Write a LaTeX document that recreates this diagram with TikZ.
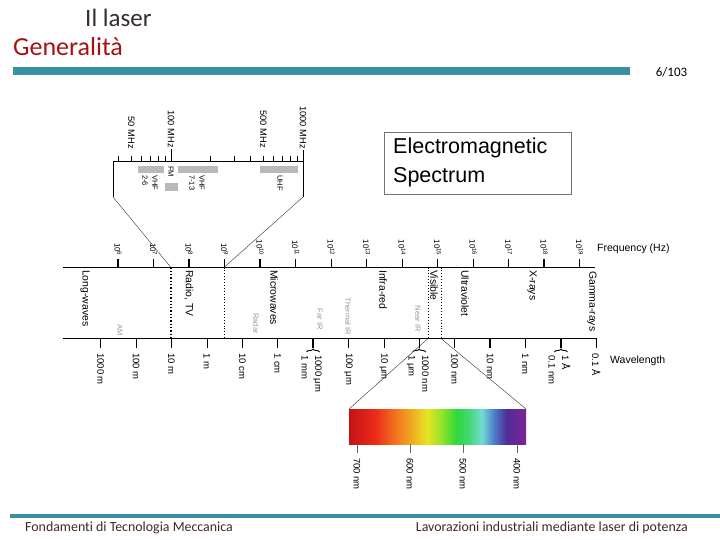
\documentclass[tikz,border=0pt]{standalone}
\usepackage{fontspec}
\setmainfont{Liberation Sans}
\newfontfamily\calib[Ligatures={NoCommon,NoDiscretionary}]{Carlito}
\usetikzlibrary{decorations.pathreplacing}
\definecolor{teal1}{RGB}{58,143,162}
\definecolor{titlered}{RGB}{165,18,18}
\definecolor{darktxt}{RGB}{55,45,42}
\definecolor{footertxt}{RGB}{65,40,32}
\definecolor{lgray}{RGB}{150,150,150}
\definecolor{bargray}{RGB}{185,185,185}
\definecolor{sc0}{RGB}{195,18,22}
\definecolor{sc1}{RGB}{235,45,25}
\definecolor{sc2}{RGB}{242,120,30}
\definecolor{sc3}{RGB}{240,175,35}
\definecolor{sc4}{RGB}{232,228,35}
\definecolor{sc5}{RGB}{150,228,40}
\definecolor{sc6}{RGB}{45,215,60}
\definecolor{sc7}{RGB}{70,215,120}
\definecolor{sc8}{RGB}{115,220,210}
\definecolor{sc9}{RGB}{75,125,205}
\definecolor{sc10}{RGB}{80,45,150}
\definecolor{sc11}{RGB}{125,35,150}
\pgfdeclarehorizontalshading{visible}{100bp}{color(0bp)=(sc0); color(25bp)=(sc0); color(32.5bp)=(sc1); color(38.5bp)=(sc2); color(43bp)=(sc3); color(47bp)=(sc4); color(51bp)=(sc5); color(55.5bp)=(sc6); color(59bp)=(sc7); color(62.5bp)=(sc8); color(66bp)=(sc9); color(69.5bp)=(sc10); color(75bp)=(sc11); color(100bp)=(sc11)}
\begin{document}
\begin{tikzpicture}[x=1pt,y=-1pt,
  vlab/.style={rotate=-90,anchor=west,inner sep=0pt,align=left,font=\fontsize{9.5}{13.5}\selectfont},
  band/.style={rotate=-90,anchor=west,inner sep=0pt,font=\fontsize{10.4}{11}\selectfont},
  faint/.style={rotate=-90,anchor=east,inner sep=0pt,text=lgray,font=\fontsize{7.5}{8}\selectfont},
  flab/.style={rotate=-90,anchor=east,inner sep=0pt,font=\fontsize{8}{9}\selectfont},
  mlab/.style={rotate=-90,anchor=east,inner sep=0pt,font=\fontsize{9.3}{10}\selectfont},
  blab/.style={rotate=-90,anchor=west,inner sep=0pt,align=left,font=\fontsize{7.5}{10}\selectfont},
  axisline/.style={line width=1.2pt},
  bigtick/.style={line width=1.5pt},
  smalltick/.style={line width=0.6pt},
  divider/.style={dotted,line width=0.9pt},
  zoomline/.style={line width=0.45pt,draw=black!75},
  graybar/.style={fill=bargray,draw=none},
]
\useasboundingbox (0,0) rectangle (720,540);
% header
\node[anchor=base west,inner sep=0pt,text=darktxt,font=\calib\fontsize{25}{26}\selectfont] (ttl) at (85,27) {Il laser};
\node[anchor=base west,inner sep=0pt,text=titlered,font=\calib\fontsize{26}{27}\selectfont] (sub) at (13,56) {Generalità};
\fill[teal1] (13,67) rectangle (630,75);
\node[inner sep=0pt,font=\calib\fontsize{13}{14}\selectfont] (pg) at (671.5,72) {6/103};
% footer
\fill[teal1] (10,514) rectangle (720,518);
\node[anchor=west,inner sep=0pt,text=footertxt,font=\calib\fontsize{13.9}{15}\selectfont] (f1) at (25,528) {Fondamenti di Tecnologia Meccanica};
\node[anchor=east,inner sep=0pt,text=footertxt,font=\calib\fontsize{13.9}{15}\selectfont] (f2) at (688,528) {Lavorazioni industriali mediante laser di potenza};
% title box
\node[draw=black!55,line width=0.8pt,anchor=north west,minimum width=187pt,minimum height=62pt,inner sep=0pt] (tbox) at (384,132) {};
\node[anchor=west,inner sep=0pt,font=\fontsize{21.5}{24}\selectfont] (t1) at (393,148) {Electromagnetic};
\node[anchor=west,inner sep=0pt,font=\fontsize{21.5}{24}\selectfont] (t2) at (393,177) {Spectrum};
% main axes
\coordinate (ua) at (63,267.5); \coordinate (ub) at (595,267.5);
\coordinate (la) at (63,338.5); \coordinate (lb) at (597,338.5);
\draw[axisline] (ua) -- (ub);
\draw[axisline] (la) -- (lb);
% frequency ticks
\foreach \n/\w in {6/bigtick,7/smalltick,8/bigtick,9/smalltick,10/bigtick,11/smalltick,12/smalltick,13/bigtick,14/smalltick,15/bigtick,16/smalltick,17/smalltick,18/bigtick,19/smalltick}{
  \pgfmathsetmacro{\xx}{118+(\n-6)*35.5}
  \draw[\w] (\xx,259) -- (\xx,267.5);
  \node[flab] (fq\n) at (\xx,256) {10\textsuperscript{\n}};
}
\node[anchor=west,inner sep=0pt,font=\fontsize{10.5}{12}\selectfont] (fqt) at (597,249) {Frequency (Hz)};
% wavelength ticks
\foreach \k/\w in {0/bigtick,1/smalltick,2/bigtick,3/smalltick,4/bigtick,5/smalltick,6/bigtick,7/bigtick,8/smalltick,9/bigtick,10/smalltick,11/bigtick,12/smalltick,13/bigtick,14/smalltick}{
  \pgfmathsetmacro{\xx}{100.7+\k*35.4}
  \draw[\w] (\xx,338.5) -- (\xx,348);
}
\foreach \k/\lab in {0/1000 m,1/100 m,2/10 m,3/1 m,4/10 cm,5/1 cm,7/100 μm,8/10 μm,10/100 nm,11/10 nm,12/1 nm,14/0.1 Å}{
  \pgfmathsetmacro{\xx}{100.7+\k*35.4}
  \node[vlab] (wl\k) at (\xx,353) {\lab};
}
\foreach \k/\lab in {6/{1000 μm\\1 mm},9/{1000 nm\\1 μm},13/{1 Å\\0.1 nm}}{
  \pgfmathsetmacro{\xx}{100.7+\k*35.4}
  \draw[line width=0.9pt,decorate,decoration={brace,amplitude=3pt}] (\xx-6.5,352) -- (\xx+6.5,352);
  \node[vlab] (wl\k) at (\xx-1.5,355) {\lab};
}
\node[anchor=west,inner sep=0pt,font=\fontsize{10.5}{12}\selectfont] (wlt) at (610,361) {Wavelength};
% dividers
\coordinate (d1a) at (171,267.5); \coordinate (d1b) at (171,338.5);
\coordinate (d2a) at (224,267.5); \coordinate (d2b) at (224,338.5);
\coordinate (d3a) at (428,267.5); \coordinate (d3b) at (428,338.5);
\coordinate (d4a) at (441,267.5); \coordinate (d4b) at (441,338.5);
\draw[divider,line width=1.3pt] (d1a) -- (d1b);
\draw[divider] (d2a) -- (d2b);
\draw[divider] (d3a) -- (d3b);
\draw[divider] (d4a) -- (d4b);
% band labels
\node[band] (lw) at (85,270) {Long-waves};
\node[band] (rt) at (189,270) {Radio, TV};
\node[band] (mw) at (274,270) {Microwaves};
\node[band] (ir) at (383,270) {Infra-red};
\node[band] (vis) at (434,270) {Visible};
\node[band] (uv) at (465,270) {Ultraviolet};
\node[band] (xr) at (532,270) {X-rays};
\node[band] (gr) at (592,271) {Gamma-rays};
\node[faint] (am) at (120,336) {AM};
\node[faint] (rad) at (256,334) {Radar};
\node[faint] (fir) at (320,330) {Far IR};
\node[faint] (tir) at (348,335) {Thermal IR};
\node[faint] (nir) at (418,332) {Near IR};
% inset
\coordinate (ia) at (113,197); \coordinate (ib) at (113,161);
\coordinate (ic) at (303,161); \coordinate (id) at (303,197);
\draw[line width=0.8pt] (ia) -- (ib) -- (ic) -- (id);
\foreach \xx in {118.5,131.3,141.7,150.6,158.2,165,210.7,234,250.5,263.3,273.7,282.5,290.2,297}{
  \draw[line width=0.6pt] (\xx,156) -- (\xx,161);
}
\draw[line width=0.9pt] (171,149) -- (171,161);
\draw[line width=0.9pt] (303,150) -- (303,161);
\node[mlab] (m50) at (131.3,149) {50 MHz};
\node[mlab] (m100) at (171,148) {100 MHz};
\node[mlab] (m500) at (263.3,148) {500 MHz};
\node[mlab] (m1000) at (303,149) {1000 MHz};
\fill[graybar] (138,166) rectangle (164,173);
\fill[graybar] (165,183) rectangle (178,191);
\fill[graybar] (178,166) rectangle (218,173);
\fill[graybar] (260,166) rectangle (298,173);
\node[blab] (v26) at (150,175) {VHF\\2-6};
\node[blab] (fm) at (171,166) {FM};
\node[blab] (v713) at (197,175) {VHF\\7-13};
\node[blab] (uhf) at (280,175) {UHF};
\draw[zoomline] (ia) -- (d1a);
\draw[zoomline] (id) -- (d2a);
% visible spectrum
\shade[shading=visible] (349,409) rectangle (526,444);
\coordinate (sa) at (349,409); \coordinate (sb) at (526,409);
\draw[zoomline] (sa) -- (d3b);
\draw[zoomline] (sb) -- (d4b);
\foreach \xx/\lab in {357/700 nm,410/600 nm,463/500 nm,517/400 nm}{
  \draw[line width=0.8pt,black!60] (\xx,444) -- (\xx,453);
  \node[vlab,font=\fontsize{9.5}{10}\selectfont] (s\xx) at (\xx,458) {\lab};
}
\end{tikzpicture}
\end{document}
